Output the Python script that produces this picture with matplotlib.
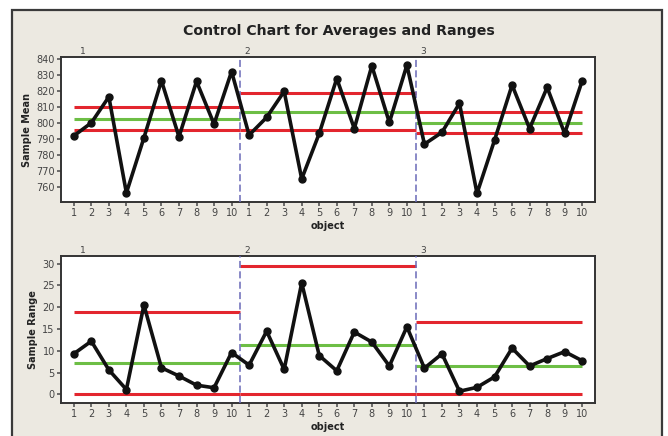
import matplotlib
matplotlib.use("Agg")
import matplotlib.pyplot as plt
from matplotlib.patches import Rectangle
import numpy as np

groups = ["1", "2", "3"]
obj_labels = [str(i) for i in range(1, 11)]

mean_g1 = [792.0, 800.2, 816.5, 756.2, 790.8, 826.6, 791.4, 826.2, 799.4, 832.4]
mean_g2 = [792.5, 803.6, 819.9, 765.0, 793.5, 828.0, 796.6, 836.0, 800.4, 836.4]
mean_g3 = [786.8, 794.2, 812.4, 755.9, 789.3, 823.9, 796.6, 822.4, 793.5, 826.6]

range_g1 = [9.3, 12.2, 5.6, 1.1, 20.5, 6.1, 4.2, 2.1, 1.5, 9.6]
range_g2 = [6.7, 14.5, 5.7, 25.6, 8.9, 5.4, 14.3, 12.0, 6.5, 15.5]
range_g3 = [6.0, 9.3, 0.7, 1.6, 4.0, 10.6, 6.5, 8.2, 9.8, 7.7]

mean_ucl = [810.3, 819.0, 806.9]
mean_cl = [802.7, 806.7, 800.2]
mean_lcl = [795.6, 795.6, 793.5]

range_ucl = [19.0, 29.5, 16.6]
range_cl = [7.3, 11.3, 6.5]
range_lcl = [0.0, 0.0, 0.0]

W, H = 668, 436
fig = plt.figure(figsize=(W / 100, H / 100), dpi=100)
fig.patch.set_facecolor("white")

frame = Rectangle((12 / W, -0.05), (662 - 12) / W, 1 - 10 / H + 0.05,
                  transform=fig.transFigure, facecolor="#ECE9E1",
                  edgecolor="#3a3a3a", linewidth=1.6, zorder=-10)
fig.patches.append(frame)

fig.text(338.5 / W, 1 - 31.5 / H, "Control Chart for Averages and Ranges",
         ha="center", va="center", fontsize=10.2, fontweight="bold", color="#222222")

RED = "#E3262E"
GREEN = "#6DBE45"
BLUE = "#6A6AB8"
TICKC = "#555555"

def make_axes(top_px, bot_px):
    ax = fig.add_axes([61 / W, 1 - bot_px / H, (595 - 61) / W, (bot_px - top_px) / H])
    ax.set_facecolor("white")
    for s in ax.spines.values():
        s.set_color("#333333")
        s.set_linewidth(1.4)
    return ax

def draw(ax, series, ucl, cl, lcl, ylim, yticks, ylabel):
    n = len(obj_labels)
    k = len(series)
    for g in range(k):
        x0 = 1 if g == 0 else g * n + 0.5
        x1 = (g + 1) * n + 0.5 if g < k - 1 else (g + 1) * n
        for lv, col in ((ucl[g], RED), (lcl[g], RED), (cl[g], GREEN)):
            ax.plot([x0, x1], [lv, lv], color=col, lw=2.2, solid_capstyle="butt", zorder=2)
    allv = [v for s in series for v in s]
    ax.plot(np.arange(1, len(allv) + 1), allv, color="#111111", lw=2.6,
            marker="o", ms=5, zorder=4)
    for g in range(1, k):
        ax.axvline(g * n + 0.5, color=BLUE, lw=1.1, dashes=(4.6, 2.2), zorder=3)
    for g, name in enumerate(groups):
        xpos = 1.5 if g == 0 else g * n + 0.9
        ax.text(xpos, 1.01, name, transform=ax.get_xaxis_transform(),
                ha="center", va="bottom", fontsize=6.5, color="#444444")
    ax.set_xlim(0.27, 30.73)
    ax.set_ylim(*ylim)
    ax.set_yticks(yticks)
    ax.set_xticks(np.arange(1, len(allv) + 1))
    ax.set_xticklabels(obj_labels * k)
    ax.tick_params(axis="both", colors=TICKC, labelsize=7, length=3, width=1.2,
                   direction="out", pad=1.5)
    ax.tick_params(axis="both", labelcolor="#444444")
    ax.set_xlabel("object", fontsize=7, fontweight="bold", color="#222222", labelpad=2)
    ax.set_ylabel(ylabel, fontsize=7, fontweight="bold", color="#222222", labelpad=3)

ax1 = make_axes(57, 202)
draw(ax1, [mean_g1, mean_g2, mean_g3], mean_ucl, mean_cl, mean_lcl,
     (750.5, 841.5), np.arange(760, 841, 10), "Sample Mean")

ax2 = make_axes(256, 402.7)
draw(ax2, [range_g1, range_g2, range_g3], range_ucl, range_cl, range_lcl,
     (-1.93, 31.77), np.arange(0, 31, 5), "Sample Range")

fig.savefig("out.png", dpi=100, facecolor=fig.get_facecolor())
